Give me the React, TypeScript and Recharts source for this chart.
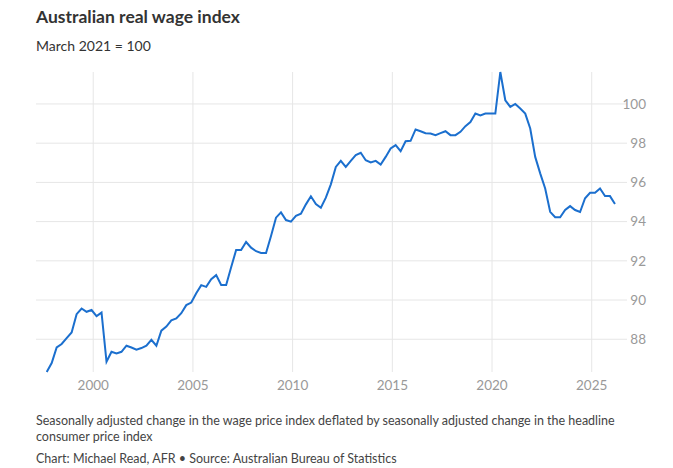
import { LineChart, Line, XAxis, YAxis, ReferenceLine } from 'recharts';

// quarterly real wage index, Sep 1997 .. Mar 2026 (March 2021 = 100)
const realWage = [
  86.33, 86.79, 87.58, 87.76, 88.06, 88.35, 89.28, 89.57, 89.4, 89.49, 89.18, 89.36,
  86.85, 87.36, 87.28, 87.36, 87.67, 87.58, 87.47, 87.55, 87.67, 87.97, 87.67, 88.44,
  88.65, 88.96, 89.06, 89.33, 89.74, 89.87, 90.35, 90.76, 90.67, 91.06, 91.27, 90.77,
  90.77, 91.67, 92.55, 92.55, 92.96, 92.67, 92.49, 92.4, 92.4, 93.27,
  94.2, 94.47, 94.08, 94.0, 94.29, 94.4, 94.88, 95.29, 94.9, 94.71, 95.22, 95.9,
  96.79, 97.1, 96.79, 97.1, 97.39, 97.51, 97.13, 97.02, 97.1, 96.91, 97.3,
  97.73, 97.9, 97.59, 98.1, 98.12, 98.7, 98.61, 98.51, 98.49, 98.41, 98.51, 98.61,
  98.41, 98.41, 98.58, 98.87, 99.08, 99.51, 99.42, 99.51, 99.51, 99.51,
  101.63, 100.19, 99.85, 100.0, 99.77, 99.51, 98.75, 97.3, 96.46, 95.69, 94.5, 94.22,
  94.22, 94.59, 94.79, 94.59, 94.49, 95.19, 95.47, 95.47, 95.69, 95.3, 95.3, 94.9,
];

// first observation: September quarter 1997
const firstQuarter = 1997 + 8 / 12;
const yearTicks = [2000, 2005, 2010, 2015, 2020, 2025];
const valueTicks = [88, 90, 92, 94, 96, 98, 100];

const data = realWage.map((v, i) => ({ t: firstQuarter + i * 0.25, value: v }));

const FONT = 'Lato, "Open Sans", sans-serif';
const GRID = '#e6e6e6';

const RightTick = (props: any) => {
  const { x, y, payload } = props;
  return (
    <text x={x + 11} y={y} dy="0.35em" textAnchor="end" fill="#999" fontSize={13.5} fontFamily={FONT}>
      {payload.value}
    </text>
  );
};

export default function App() {
  return (
    <div style={{ position: 'absolute', left: 0, top: 0, width: 673, height: 468, background: '#fff', fontFamily: FONT }}>
      <div style={{ position: 'absolute', left: 36, top: 6, fontSize: 17.5, fontWeight: 700, color: '#333' }}>
        Australian real wage index
      </div>
      <div style={{ position: 'absolute', left: 36, top: 37, fontSize: 14, color: '#333' }}>March 2021 = 100</div>

      <LineChart width={673} height={468} data={data} margin={{ top: 72, right: 16, left: 36, bottom: 66 }}>
        <XAxis
          dataKey="t"
          type="number"
          domain={[1997.13, 2026.77]}
          ticks={yearTicks}
          axisLine={false}
          tickLine={false}
          height={30}
          tick={{ fill: '#999', fontSize: 13.5, fontFamily: FONT }}
        />
        <YAxis
          orientation="right"
          type="number"
          domain={['dataMin', 'dataMax']}
          ticks={valueTicks}
          axisLine={false}
          tickLine={false}
          width={30}
          tick={<RightTick />}
        />
        {valueTicks.map((v) => (
          <ReferenceLine key={'h' + v} y={v} stroke={GRID} strokeWidth={1} />
        ))}
        {yearTicks.map((t) => (
          <ReferenceLine key={'v' + t} x={t} stroke={GRID} strokeWidth={1} />
        ))}
        <Line
          type="linear"
          dataKey="value"
          stroke="#1b6fce"
          strokeWidth={2}
          dot={false}
          isAnimationActive={false}
        />
      </LineChart>

      <div style={{ position: 'absolute', left: 36, top: 413, width: 620, fontSize: 12.5, lineHeight: '16px', color: '#444' }}>
        Seasonally adjusted change in the wage price index deflated by seasonally adjusted change in the headline
        consumer price index
      </div>
      <div style={{ position: 'absolute', left: 36, top: 451, fontSize: 12.5, color: '#444' }}>
        Chart: Michael Read, AFR • Source: Australian Bureau of Statistics
      </div>
    </div>
  );
}
